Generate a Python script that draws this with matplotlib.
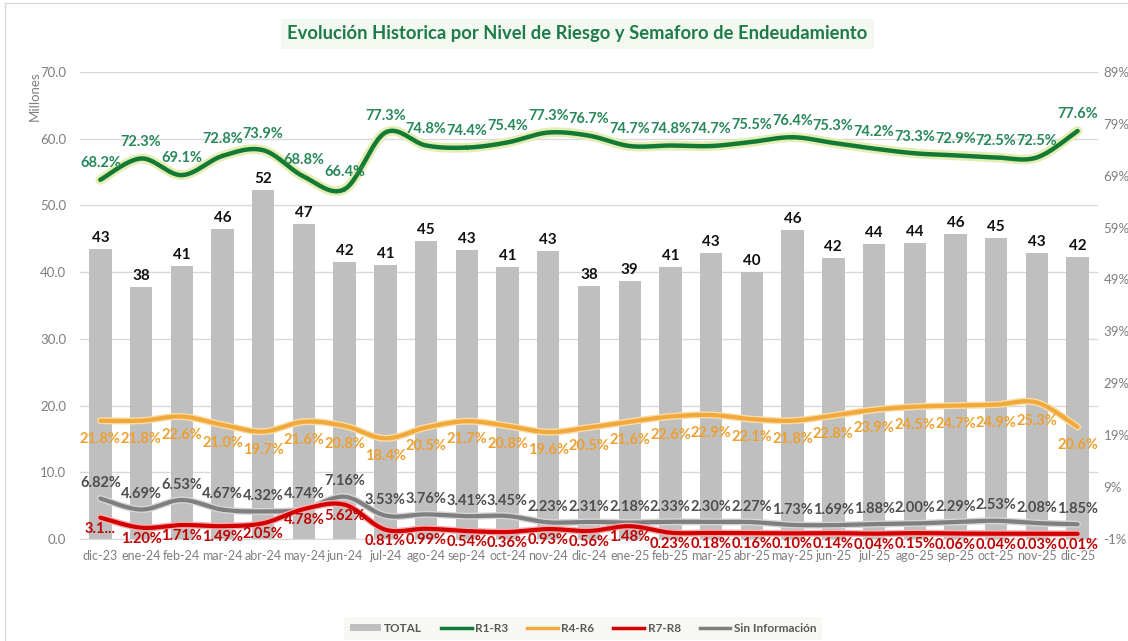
import numpy as np
import matplotlib.pyplot as plt
import matplotlib.patheffects as pe
from matplotlib.lines import Line2D
from matplotlib.patches import Patch
from matplotlib.ticker import FuncFormatter

plt.rcParams['font.family'] = ['Lato', 'DejaVu Sans']

meses = ['dic-23', 'ene-24', 'feb-24', 'mar-24', 'abr-24', 'may-24', 'jun-24',
         'jul-24', 'ago-24', 'sep-24', 'oct-24', 'nov-24', 'dic-24', 'ene-25',
         'feb-25', 'mar-25', 'abr-25', 'may-25', 'jun-25', 'jul-25', 'ago-25',
         'sep-25', 'oct-25', 'nov-25', 'dic-25']

# total en millones
total = [43.4, 37.7, 40.9, 46.4, 52.3, 47.2, 41.5, 41.0, 44.6, 43.3, 40.7, 43.1, 37.9,
         38.6, 40.7, 42.8, 40.0, 46.3, 42.1, 44.2, 44.4, 45.7, 45.1, 42.8, 42.2]

# participacion por nivel de riesgo (%)
r1_r3 = [68.2, 72.3, 69.1, 72.8, 73.9, 68.8, 66.4, 77.3, 74.8, 74.4, 75.4, 77.3, 76.7,
         74.7, 74.8, 74.7, 75.5, 76.4, 75.3, 74.2, 73.3, 72.9, 72.5, 72.5, 77.6]
r4_r6 = [21.8, 21.8, 22.6, 21.0, 19.7, 21.6, 20.8, 18.4, 20.5, 21.7, 20.8, 19.6, 20.5,
         21.6, 22.6, 22.9, 22.1, 21.8, 22.8, 23.9, 24.5, 24.7, 24.9, 25.3, 20.6]
r7_r8 = [3.13, 1.20, 1.71, 1.49, 2.05, 4.78, 5.62, 0.81, 0.99, 0.54, 0.36, 0.93, 0.56,
         1.48, 0.23, 0.18, 0.16, 0.10, 0.14, 0.04, 0.15, 0.06, 0.04, 0.03, 0.01]
sin_info = [6.82, 4.69, 6.53, 4.67, 4.32, 4.74, 7.16, 3.53, 3.76, 3.41, 3.45, 2.23, 2.31,
            2.18, 2.33, 2.30, 2.27, 1.73, 1.69, 1.88, 2.00, 2.29, 2.53, 2.08, 1.85]


def suavizar(x, y, n=24):
    # curva Catmull-Rom entre puntos consecutivos (linea suavizada)
    x = np.asarray(x, float)
    y = np.asarray(y, float)
    px = np.concatenate([[x[0]], x, [x[-1]]])
    py = np.concatenate([[y[0]], y, [y[-1]]])
    xs, ys = [], []
    t = np.linspace(0, 1, n)
    for i in range(1, len(px) - 2):
        for arr, out in ((px, xs), (py, ys)):
            p0, p1, p2, p3 = arr[i - 1], arr[i], arr[i + 1], arr[i + 2]
            out.extend(0.5 * ((2 * p1) + (-p0 + p2) * t
                              + (2 * p0 - 5 * p1 + 4 * p2 - p3) * t ** 2
                              + (-p0 + 3 * p1 - 3 * p2 + p3) * t ** 3))
    return np.array(xs), np.array(ys)


fig = plt.figure(figsize=(11.28, 6.41), dpi=100)
ax = fig.add_axes([0.0709, 0.159, 0.9025, 0.729])
ax2 = ax.twinx()

x = np.arange(len(meses))

# barras del total
ax.bar(x, total, width=0.55, color='#BFBFBF', zorder=2)
for xi, v in zip(x, total):
    ax.annotate(f'{v:.0f}', (xi, v), xytext=(0, 3), textcoords='offset points',
                ha='center', va='bottom', fontsize=11, fontweight='bold', color='#111111')

ax.set_xlim(-0.5, len(meses) - 0.5)
ax.set_ylim(0, 70)
ax.set_yticks(np.arange(0, 71, 10))
ax.yaxis.set_major_formatter(FuncFormatter(lambda v, p: f'{v:.1f}'))
ax.set_xticks(x)
ax.set_xticklabels(meses)
ax.tick_params(axis='both', length=0, colors='#7F7F7F', labelsize=9.5)
ax.tick_params(axis='x', labelsize=9, pad=8)
ax.tick_params(axis='y', pad=10)
ax.grid(axis='y', color='#D9D9D9', lw=1, zorder=0)
ax.set_axisbelow(True)
for s in ax.spines.values():
    s.set_visible(False)
ax.spines['bottom'].set_visible(True)
ax.spines['bottom'].set_color('#D9D9D9')

ax2.set_ylim(-0.01, 0.89)
ax2.set_yticks(np.arange(-0.01, 0.90, 0.1))
ax2.yaxis.set_major_formatter(FuncFormatter(lambda v, p: f'{v * 100:.0f}%'))
ax2.tick_params(axis='y', length=0, colors='#7F7F7F', labelsize=9.5, pad=4)
for s in ax2.spines.values():
    s.set_visible(False)

# (valores, color linea, color texto, desplazamiento etiqueta, decimales, efecto, grosor)
series = [
    (r1_r3, '#137A35', '#27885A', 12, 1, [pe.Stroke(linewidth=7, foreground='#E4EDB4'), pe.Normal()], 3.2),
    (r4_r6, '#F2A93B', '#EDA030', -13, 1, [pe.Stroke(linewidth=5, foreground='#F8DDA8'), pe.Normal()], 3.0),
    (sin_info, '#7F7F7F', '#4D4D4D', 11, 2, [pe.Stroke(linewidth=5, foreground='#D6D6D6'), pe.Normal()], 3.0),
    (r7_r8, '#D40000', '#C00000', -8, 2, [pe.Stroke(linewidth=5, foreground='#F2B0B0'), pe.Normal()], 3.0),
]

for vals, color, tcolor, desp, dec, efecto, lw in series:
    yv = np.array(vals) / 100
    sx, sy = suavizar(x, yv)
    ax2.plot(sx, sy, color=color, lw=lw, zorder=3, path_effects=efecto,
             solid_capstyle='round')
    for xi, v in zip(x, vals):
        txt = f'{v:.{dec}f}%'
        if vals is r7_r8 and xi == 0:
            txt = '3.1...'
        ax2.annotate(txt, (xi, v / 100), xytext=(0, desp), textcoords='offset points',
                     ha='center', va='center', fontsize=10.5, fontweight='bold',
                     color=tcolor, zorder=5)

fig.text(0.031, 0.85, 'Millones', rotation=90, ha='center', va='center',
         fontsize=9.5, color='#7F7F7F')

fig.text(0.512, 0.947, 'Evolución Historica por Nivel de Riesgo y Semaforo de Endeudamiento',
         ha='center', va='center', fontsize=13.2, fontweight='bold', color='#1E7B4A',
         bbox=dict(boxstyle='square,pad=0.35', facecolor='#F3F8F1', edgecolor='none'))

handles = [
    Patch(facecolor='#BFBFBF', label='TOTAL'),
    Line2D([], [], color='#137A35', lw=2.5, label='R1-R3'),
    Line2D([], [], color='#F2A93B', lw=2.5, label='R4-R6'),
    Line2D([], [], color='#D40000', lw=2.5, label='R7-R8'),
    Line2D([], [], color='#7F7F7F', lw=2.5, label='Sin Información'),
]
leg = fig.legend(handles=handles, loc='center', bbox_to_anchor=(0.517, 0.02), ncol=5,
                 frameon=True, fontsize=8.5, handlelength=2.6, handleheight=0.6,
                 columnspacing=1.6, handletextpad=0.3, borderpad=0.5)
leg.get_frame().set_facecolor('#F5F7F2')
leg.get_frame().set_edgecolor('none')
for t in leg.get_texts():
    t.set_color('#595959')
    t.set_fontweight('bold')

# marco del grafico
fig.add_artist(Line2D([0.004, 0.004], [0, 0.995], color='#D9D9D9', lw=1))
fig.add_artist(Line2D([0.004, 1], [0.995, 0.995], color='#D9D9D9', lw=1))

fig.savefig('out.png', dpi=100, facecolor='white')
